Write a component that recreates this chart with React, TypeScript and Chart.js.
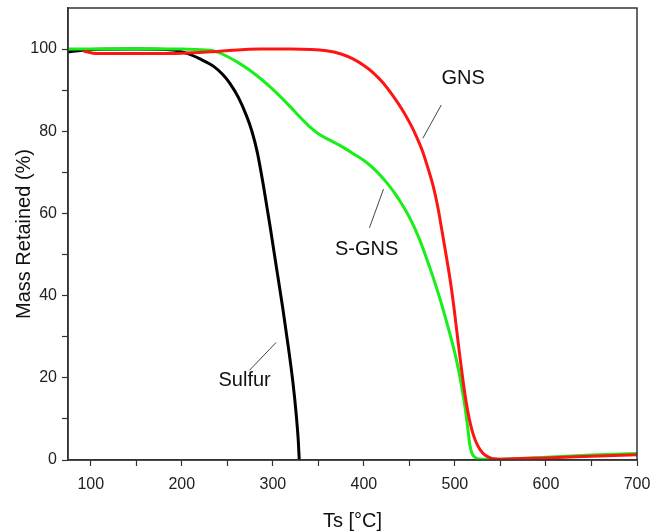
import React, { useEffect, useRef } from 'react';
import { Chart, registerables } from 'chart.js';

Chart.register(...registerables);

// ---- Data ----
const sulfurTemp = [75, 100, 150, 190, 205, 220, 235, 245, 253, 262, 271, 277, 283, 290, 297, 304, 311, 317, 322, 325.5, 328, 329];
const sulfurMass = [99.3, 99.9, 100, 99.8, 99.0, 97.6, 95.8, 93.8, 91.6, 88.3, 83.8, 80.0, 74.8, 66.3, 56.8, 46.8, 36.8, 27.5, 19.0, 11.5, 4.5, 0];

const sgnsTemp = [75, 150, 200, 231, 240, 250, 262, 275, 286, 297, 308, 319, 330, 340, 350, 362, 374, 388, 403, 415, 425, 435, 443, 452, 460, 468, 476, 484, 491, 497, 502, 507, 511, 514, 516.5, 519, 523, 530, 545, 600, 650, 700];
const sgnsMass = [100, 100.1, 100, 99.7, 99.2, 98.2, 96.7, 94.8, 92.9, 90.8, 88.5, 86.0, 83.4, 81.2, 79.4, 77.9, 76.5, 74.6, 72.4, 70.0, 67.5, 64.6, 61.8, 58.2, 54.3, 49.6, 44.5, 38.9, 33.5, 28.6, 24.0, 18.4, 13.0, 8.0, 3.5, 1.5, 0.5, 0.2, 0.2, 0.7, 1.2, 1.6];

const gnsTemp = [92, 107, 150, 200, 242, 286, 320, 359, 375, 388, 400, 410, 421, 432, 442, 451, 458, 465, 471, 476, 481, 486, 490, 495, 499, 502, 505, 508, 511, 514, 517, 520, 525, 531, 537, 542, 550, 600, 650, 700];
const gnsMass = [99.5, 98.9, 98.9, 99.0, 99.5, 100, 100, 99.6, 98.8, 97.6, 96.0, 94.3, 91.8, 88.6, 85.3, 81.8, 78.6, 74.8, 70.6, 66.8, 61.8, 55.5, 50.3, 43.5, 37.0, 31.5, 26.0, 20.8, 16.0, 12.0, 8.8, 6.3, 3.5, 1.6, 0.7, 0.3, 0.2, 0.5, 0.9, 1.3];

const xTickValues = [100, 150, 200, 250, 300, 350, 400, 450, 500, 550, 600, 650, 700];
const yTickValues = [0, 10, 20, 30, 40, 50, 60, 70, 80, 90, 100];
const xMin = 75;
const xMax = 700;
const yMin = 0;
const yMax = 110;

const seriesNames = ['GNS', 'S-GNS', 'Sulfur'];
const seriesColors = ['#ff1414', '#18ee18', '#000000'];

// Curve labels with leader lines (data coordinates)
const labelText = ['GNS', 'S-GNS', 'Sulfur'];
const labelAt = [[509, 92.9], [403, 51.2], [269, 19.3]];
const leaderFrom = [[485, 86.4], [421.5, 65.9], [303.6, 28.6]];
const leaderTo = [[464.8, 78.3], [406.1, 56.5], [274.2, 21.8]];

const FONT = "'Liberation Sans', Arial, Helvetica, sans-serif";

const toPoints = (xs: number[], ys: number[]) => xs.map((x, i) => ({ x, y: ys[i] }));

const framePlugin = {
  id: 'frameAndLabels',
  afterDatasetsDraw(chart: any) {
    const { ctx, chartArea, scales } = chart;
    const xs = scales.x;
    const ys = scales.y;
    ctx.save();
    ctx.strokeStyle = '#444';
    ctx.lineWidth = 1;
    for (let i = 0; i < labelText.length; i++) {
      ctx.beginPath();
      ctx.moveTo(xs.getPixelForValue(leaderFrom[i][0]), ys.getPixelForValue(leaderFrom[i][1]));
      ctx.lineTo(xs.getPixelForValue(leaderTo[i][0]), ys.getPixelForValue(leaderTo[i][1]));
      ctx.stroke();
    }
    ctx.fillStyle = '#111';
    ctx.font = `20px ${FONT}`;
    ctx.textAlign = 'center';
    ctx.textBaseline = 'middle';
    for (let i = 0; i < labelText.length; i++) {
      ctx.fillText(labelText[i], xs.getPixelForValue(labelAt[i][0]), ys.getPixelForValue(labelAt[i][1]));
    }
    ctx.strokeStyle = '#333';
    ctx.lineWidth = 1.5;
    ctx.strokeRect(chartArea.left, chartArea.top, chartArea.right - chartArea.left, chartArea.bottom - chartArea.top);
    ctx.restore();
  },
};

export default function App() {
  const canvasRef = useRef<HTMLCanvasElement | null>(null);

  useEffect(() => {
    document.body.style.margin = '0';
    const canvas = canvasRef.current;
    if (!canvas) return;
    const chart = new Chart(canvas, {
      type: 'line',
      data: {
        datasets: [
          { label: seriesNames[0], data: toPoints(gnsTemp, gnsMass), borderColor: seriesColors[0], backgroundColor: seriesColors[0] },
          { label: seriesNames[1], data: toPoints(sgnsTemp, sgnsMass), borderColor: seriesColors[1], backgroundColor: seriesColors[1] },
          { label: seriesNames[2], data: toPoints(sulfurTemp, sulfurMass), borderColor: seriesColors[2], backgroundColor: seriesColors[2] },
        ].map((d) => ({ ...d, borderWidth: 3, pointRadius: 0, fill: false, cubicInterpolationMode: 'monotone' as const })),
      },
      options: {
        animation: false,
        responsive: false,
        devicePixelRatio: 1,
        layout: { padding: { top: 8, right: 14, left: 0, bottom: 0 } },
        plugins: { legend: { display: false }, tooltip: { enabled: false } },
        scales: {
          x: {
            type: 'linear',
            min: xMin,
            max: xMax,
            afterBuildTicks: (scale: any) => {
              scale.ticks = xTickValues.map((v) => ({ value: v }));
            },
            afterFit: (scale: any) => {
              scale.height = 72;
              scale.paddingLeft = 0;
              scale.paddingRight = 0;
            },
            grid: { drawOnChartArea: false, drawTicks: true, tickLength: 6, color: '#333', tickWidth: 1.2 },
            border: { display: true, color: '#333', width: 1.5 },
            ticks: {
              autoSkip: false,
              maxRotation: 0,
              padding: 9,
              color: '#222',
              font: { family: FONT, size: 16 },
              callback: (v: any) => (Number(v) % 100 === 0 ? String(v) : ''),
            },
            title: {
              display: true,
              text: 'Ts [°C]',
              color: '#111',
              font: { family: FONT, size: 20, lineHeight: 1.1 },
              padding: { top: 0, bottom: 0 },
            },
          },
          y: {
            type: 'linear',
            min: yMin,
            max: yMax,
            afterBuildTicks: (scale: any) => {
              scale.ticks = yTickValues.map((v) => ({ value: v }));
            },
            afterFit: (scale: any) => {
              scale.width = 68;
              scale.paddingTop = 0;
              scale.paddingBottom = 0;
            },
            grid: { drawOnChartArea: false, drawTicks: true, tickLength: 6, color: '#333', tickWidth: 1.2 },
            border: { display: true, color: '#333', width: 1.5 },
            ticks: {
              autoSkip: false,
              padding: 5,
              color: '#222',
              font: { family: FONT, size: 16 },
              callback: (v: any) => (Number(v) % 20 === 0 ? String(v) : ''),
            },
            title: {
              display: true,
              text: 'Mass Retained (%)',
              color: '#111',
              font: { family: FONT, size: 20 },
              padding: { top: 12, bottom: 0 },
            },
          },
        },
      },
      plugins: [framePlugin],
    });
    return () => chart.destroy();
  }, []);

  return (
    <div style={{ width: 651, height: 532, background: '#fff' }}>
      <canvas ref={canvasRef} width={651} height={532} style={{ display: 'block' }} />
    </div>
  );
}
